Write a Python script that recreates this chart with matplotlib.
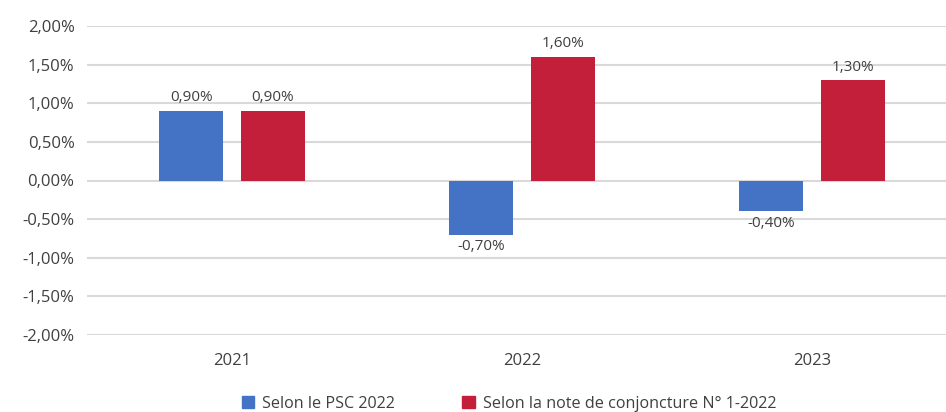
import matplotlib.pyplot as plt
import numpy as np
from matplotlib.patches import Patch

plt.rcParams['font.family'] = ['Open Sans', 'DejaVu Sans']

annees = ['2021', '2022', '2023']
psc_2022 = [0.90, -0.70, -0.40]
note_conjoncture = [0.90, 1.60, 1.30]
series_noms = ['Selon le PSC 2022', 'Selon la note de conjoncture N° 1-2022']
couleurs = ['#4472C4', '#C41F3A']


def fmt(v):
    return f"{v:.2f}%".replace('.', ',')


fig = plt.figure(figsize=(9.46, 4.12), dpi=100)
ax = fig.add_axes([87 / 946, 1 - 335 / 412, (946 - 87) / 946, (335 - 26) / 412])

x = np.arange(len(annees))
largeur = 0.22
decalage = 0.141

for i, (vals, nom, coul) in enumerate(zip([psc_2022, note_conjoncture], series_noms, couleurs)):
    pos = x + (-decalage if i == 0 else decalage)
    barres = ax.bar(pos, vals, width=largeur, color=coul, label=nom, zorder=3)
    for b, v in zip(barres, vals):
        if v >= 0:
            ax.annotate(fmt(v), (b.get_x() + b.get_width() / 2, v), xytext=(0, 4),
                        textcoords='offset points', ha='center', va='bottom',
                        fontsize=11, color='#404040')
        else:
            ax.annotate(fmt(v), (b.get_x() + b.get_width() / 2, v), xytext=(0, -3),
                        textcoords='offset points', ha='center', va='top',
                        fontsize=11, color='#404040')

ax.set_ylim(-2.0, 2.0)
ax.set_yticks(np.arange(-2.0, 2.01, 0.5))
ax.set_yticklabels([fmt(v) for v in np.arange(-2.0, 2.01, 0.5)], fontsize=12, color='#404040')
ax.set_xlim(-0.5, 2.5 - 11 / 290)
ax.set_xticks(x)
ax.set_xticklabels(annees, fontsize=12, color='#404040')
ax.tick_params(axis='both', length=0)
ax.tick_params(axis='x', pad=13)
ax.tick_params(axis='y', pad=9)
ax.grid(axis='y', color='#d9d9d9', linewidth=1.5, zorder=0)
for s in ax.spines.values():
    s.set_visible(False)

poignees = [Patch(color=c) for c in couleurs]
fig.legend(poignees, series_noms, loc='lower center', bbox_to_anchor=(0.538, -0.035),
           ncol=2, frameon=False, fontsize=11.6, handlelength=0.75, handleheight=0.75,
           columnspacing=4.2, handletextpad=0.5, labelcolor='#404040')

fig.savefig('out.png', dpi=100)
